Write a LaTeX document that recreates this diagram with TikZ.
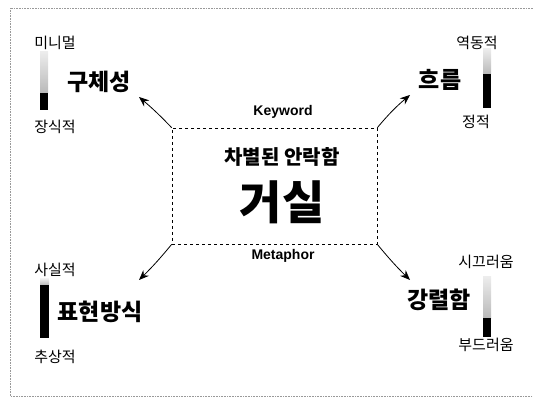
\documentclass[tikz,border=0pt]{standalone}
\usepackage{fontspec}
\setmainfont{Liberation Sans}
\newfontfamily\kr{Noto Sans CJK KR}
\usetikzlibrary{arrows.meta}
\begin{document}
\begin{tikzpicture}[x=1pt,y=-1pt,
  big/.style={font=\kr\bfseries\fontsize{23}{25}\selectfont, inner sep=0pt},
  small/.style={font=\kr\fontsize{15}{17}\selectfont, inner sep=0pt},
  eng/.style={font=\bfseries\fontsize{14}{16}\selectfont, inner sep=0pt},
  arr/.style={-{Stealth[length=10pt,width=8pt]}, line width=0.8pt},
  graypart/.style={top color=gray!15, bottom color=gray!55, draw=none},
  blackpart/.style={fill=black, draw=none}]
\useasboundingbox (0,0) rectangle (533,398);
% outer border
\draw[gray!80, densely dotted, line width=0.6pt] (533,8) -- (10,8) -- (10,396) -- (533,396);
% centre box
\node[draw, dashed, line width=0.7pt, minimum width=205pt, minimum height=116pt, inner sep=0pt] (box) at (274.5,186) {};
\node[font=\kr\bfseries\fontsize{20}{22}\selectfont, inner sep=0pt] (t1) at (282,157) {차별된 안락함};
\node[font=\kr\bfseries\fontsize{46}{48}\selectfont, inner sep=0pt] (t2) at (282,202) {거실};
\node[eng] (kw) at (283,112) {Keyword};
\node[eng] (mp) at (283,256) {Metaphor};
% labels
\node[big] (l1) at (99,82) {구체성};
\node[big] (l2) at (440,80) {흐름};
\node[big] (l3) at (100,312) {표현방식};
\node[big] (l4) at (439,300) {강렬함};
% small labels
\node[small] (a1) at (55,43) {미니멀};
\node[small] (b1) at (55,127) {장식적};
\node[small] (a2) at (477,43) {역동적};
\node[small] (b2) at (476,122) {정적};
\node[small] (a3) at (55,270) {사실적};
\node[small] (b3) at (55,357) {추상적};
\node[small] (a4) at (486,262) {시끄러움};
\node[small] (b4) at (486,345) {부드러움};
% sliders
\fill[graypart] (40,52) rectangle (48,93);
\fill[blackpart] (40,93) rectangle (48,110);
\fill[graypart] (483,49) rectangle (491,74);
\fill[blackpart] (483,74) rectangle (491,108);
\fill[graypart] (40,279) rectangle (49,285);
\fill[blackpart] (40,285) rectangle (49,338);
\fill[graypart] (483,277) rectangle (491,318);
\fill[blackpart] (483,318) rectangle (491,337);
% arrow tips
\coordinate (p1) at (139,97);
\coordinate (p2) at (410,95);
\coordinate (p3) at (139,280);
\coordinate (p4) at (410,280);
\draw[arr] (box.north west) to[bend right=3] (p1);
\draw[arr] (box.north east) to[bend left=5] (p2);
\draw[arr] (box.south west) to[bend left=3] (p3);
\draw[arr] (box.south east) to[bend right=3] (p4);
\end{tikzpicture}
\end{document}
